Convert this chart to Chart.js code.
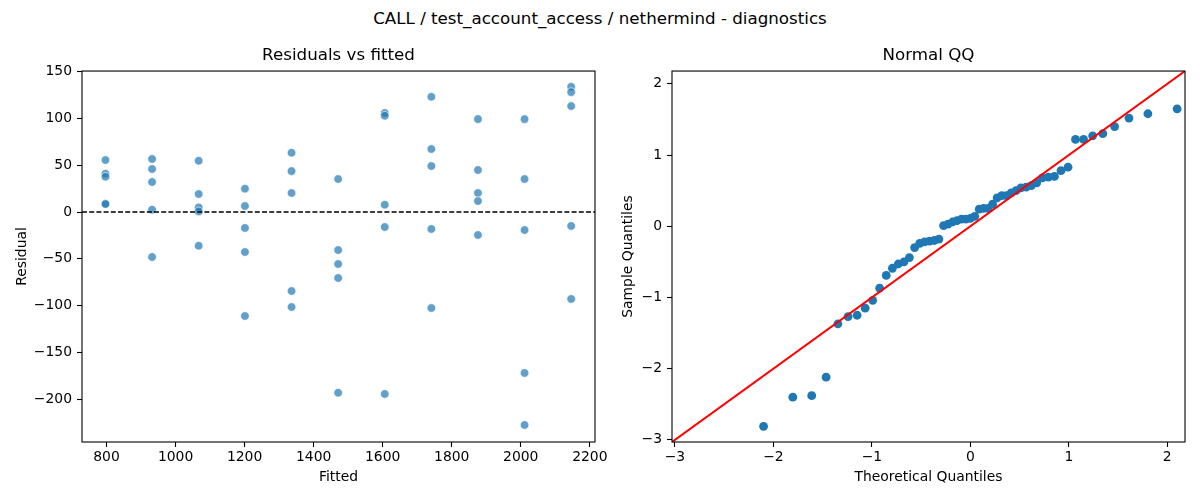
<!DOCTYPE html>
<html>
<head>
<meta charset="utf-8">
<title>CALL / test_account_access / nethermind - diagnostics</title>
<script src="https://cdn.jsdelivr.net/npm/chart.js@4.4.1/dist/chart.umd.min.js"></script>
<style>
  html, body { margin: 0; padding: 0; background: #fff; }
  #fig { position: relative; width: 1200px; height: 500px; overflow: hidden; font-family: 'DejaVu Sans', sans-serif; }
  #suptitle { position: absolute; left: 0; top: 8px; width: 1200px; text-align: center; font-size: 16.7px; line-height: 20px; color: #000; }
  #resid { position: absolute; left: 0; top: 0; }
  #qq { position: absolute; left: 600px; top: 0; }
</style>
</head>
<body>
<div id="fig">
  <div id="suptitle">CALL / test_account_access / nethermind - diagnostics</div>
  <canvas id="resid" width="640" height="500"></canvas>
  <canvas id="qq" width="600" height="500"></canvas>
</div>
<script>
// fitted levels and the residuals seen at each level
const FITTED = [797, 932, 1067, 1201, 1336, 1471, 1606, 1741, 1876, 2011, 2146];
const RESIDUALS = [
  [55.5, 40.9, 37.7, 8.9, 8.5],
  [56.6, 45.9, 32, 2.5, -48],
  [54.7, 19.2, 4.9, 0.7, -36],
  [24.9, 6.4, -17, -42.7, -111],
  [63.3, 43.7, 20.3, -84.3, -101.4],
  [35.2, -40.6, -55.5, -70.4, -192.9],
  [105.7, 102.8, 7.8, -16, -194.2],
  [123, 67.2, 49.1, -18.1, -102.5],
  [99.2, 44.8, 20.3, 11.7, -24.5],
  [99.2, 35.2, -19.2, -171.8, -227.3],
  [133.7, 128, 113.1, -14.9, -92.8]
];
const RESID_X_TICKS = [800, 1000, 1200, 1400, 1600, 1800, 2000, 2200];
const RESID_Y_TICKS = [-200, -150, -100, -50, 0, 50, 100, 150];
const RESID_X_RANGE = [729, 2215];
const RESID_Y_RANGE = [-245.5, 150.5];

// normal QQ
const QQ_THEORETICAL = [
  -2.100, -1.803, -1.611, -1.465, -1.345, -1.242, -1.150, -1.068, -0.992, -0.921,
  -0.854, -0.792, -0.732, -0.674, -0.619, -0.566, -0.514, -0.464, -0.415, -0.366,
  -0.319, -0.272, -0.226, -0.180, -0.135, -0.090, -0.045, 0.000, 0.045, 0.090,
  0.135, 0.180, 0.226, 0.272, 0.319, 0.366, 0.415, 0.464, 0.514, 0.566,
  0.619, 0.674, 0.732, 0.792, 0.854, 0.921, 0.992, 1.068, 1.150, 1.242,
  1.345, 1.465, 1.611, 1.803, 2.100
];
const QQ_SAMPLE = [
  -2.81, -2.40, -2.38, -2.12, -1.37, -1.27, -1.25, -1.15, -1.04, -0.87,
  -0.69, -0.59, -0.53, -0.50, -0.44, -0.30, -0.24, -0.22, -0.21, -0.20,
  -0.18, 0.01, 0.03, 0.06, 0.08, 0.10, 0.10, 0.11, 0.14, 0.24,
  0.25, 0.25, 0.31, 0.40, 0.43, 0.43, 0.47, 0.50, 0.54, 0.55,
  0.57, 0.61, 0.68, 0.69, 0.70, 0.78, 0.83, 1.22, 1.22, 1.27,
  1.30, 1.40, 1.52, 1.58, 1.65
];
const QQ_TICKS = [-3, -2, -1, 0, 1, 2];
const QQ_RANGE = [-3.03, 2.18];

const FONT = 'DejaVu Sans';
Chart.defaults.font.family = FONT;
Chart.defaults.color = '#000';

const minus = v => String(v).replace('-', '\u2212');

// matplotlib style box round the plot area
const frame = {
  id: 'frame',
  afterDatasetsDraw(chart) {
    const { ctx, chartArea: a } = chart;
    ctx.save();
    ctx.strokeStyle = '#000';
    ctx.lineWidth = 1.1;
    ctx.strokeRect(a.left, a.top, a.right - a.left, a.bottom - a.top);
    ctx.restore();
  }
};

function makeAxis(range, ticks, title, titlePad, size, horizontal) {
  return {
    type: 'linear',
    min: range[0],
    max: range[1],
    afterBuildTicks: s => { s.ticks = ticks.map(v => ({ value: v })); },
    afterFit: s => { if (horizontal) s.height = size; else s.width = size; },
    grid: { drawOnChartArea: false, drawTicks: true, tickLength: 5, tickColor: '#000', tickWidth: 1.1 },
    border: { display: false },
    ticks: {
      autoSkip: false,
      maxRotation: 0,
      padding: horizontal ? 2 : 5,
      font: { size: 13.9 },
      color: '#000',
      callback: v => minus(v)
    },
    title: {
      display: true,
      text: title,
      font: { size: 13.9 },
      color: '#000',
      padding: horizontal ? { top: 0, bottom: titlePad } : { top: titlePad, bottom: 0 }
    }
  };
}

function plotTitle(text) {
  return {
    display: true,
    text: text,
    fullSize: false,
    color: '#000',
    font: { size: 16.7, weight: 'normal' },
    padding: { top: 46, bottom: 5 }
  };
}

const residPoints = FITTED.flatMap((x, i) => RESIDUALS[i].map(y => ({ x: x, y: y })));

new Chart(document.getElementById('resid'), {
  type: 'scatter',
  data: {
    datasets: [
      {
        data: [{ x: RESID_X_RANGE[0], y: 0 }, { x: RESID_X_RANGE[1], y: 0 }],
        showLine: true,
        borderColor: '#000',
        borderWidth: 1.3,
        borderDash: [5, 2.2],
        pointRadius: 0
      },
      {
        data: residPoints,
        backgroundColor: 'rgba(31,119,180,0.7)',
        borderColor: 'rgba(255,255,255,0.8)',
        borderWidth: 0.8,
        pointRadius: 4.3
      }
    ]
  },
  options: {
    responsive: false,
    animation: false,
    events: [],
    layout: { padding: { left: 0, right: 45, top: 0, bottom: 0 } },
    plugins: {
      legend: { display: false },
      tooltip: { enabled: false },
      title: plotTitle('Residuals vs fitted')
    },
    scales: {
      x: makeAxis(RESID_X_RANGE, RESID_X_TICKS, 'Fitted', 14.4, 58, true),
      y: makeAxis(RESID_Y_RANGE, RESID_Y_TICKS, 'Residual', 13.7, 82, false)
    }
  },
  plugins: [frame]
});

const qqPoints = QQ_THEORETICAL.map((x, i) => ({ x: x, y: QQ_SAMPLE[i] }));

new Chart(document.getElementById('qq'), {
  type: 'scatter',
  data: {
    datasets: [
      {
        data: [{ x: QQ_RANGE[0], y: QQ_RANGE[0] }, { x: QQ_RANGE[1], y: QQ_RANGE[1] }],
        showLine: true,
        borderColor: '#ff0000',
        borderWidth: 2,
        pointRadius: 0
      },
      {
        data: qqPoints,
        backgroundColor: '#1f77b4',
        borderWidth: 0,
        pointRadius: 4.4
      }
    ]
  },
  options: {
    responsive: false,
    animation: false,
    events: [],
    layout: { padding: { left: 0, right: 15, top: 0, bottom: 0 } },
    plugins: {
      legend: { display: false },
      tooltip: { enabled: false },
      title: plotTitle('Normal QQ')
    },
    scales: {
      x: makeAxis(QQ_RANGE, QQ_TICKS, 'Theoretical Quantiles', 14.4, 58, true),
      y: makeAxis(QQ_RANGE, QQ_TICKS, 'Sample Quantiles', 20, 72, false)
    }
  },
  plugins: [frame]
});
</script>
</body>
</html>
